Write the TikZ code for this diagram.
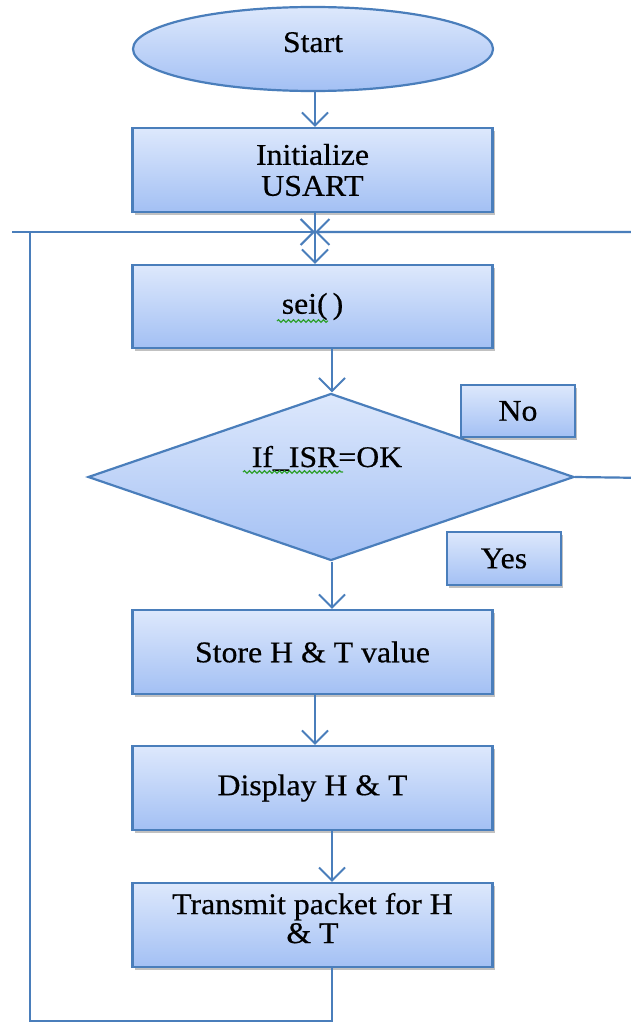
\documentclass[tikz,border=0pt]{standalone}
\usepackage{fontspec}
\setmainfont{Liberation Serif}[FakeStretch=1.06, FakeBold=0.5]
\usetikzlibrary{arrows.meta,shapes.geometric,shadows,decorations.pathmorphing}

\definecolor{flowline}{HTML}{4A7EBB}
\definecolor{fillTop}{HTML}{DDE8FC}
\definecolor{fillBot}{HTML}{A3C0F4}
\definecolor{spellgreen}{HTML}{2EA02E}

\tikzset{
  x=1pt, y=-1pt,
  flowfill/.style={top color=fillTop, bottom color=fillBot, draw=flowline, line width=2.2pt},
  procbox/.style={flowfill, rectangle, inner sep=0pt,
    drop shadow={shadow xshift=2pt, shadow yshift=-3pt, opacity=0.4, fill=black!60},
    font=\fontsize{30}{31}\selectfont, align=center},
  tagbox/.style={procbox, minimum width=114pt, minimum height=52pt},
  bigbox/.style={procbox, minimum width=360pt, minimum height=84pt},
  flowtext/.style={font=\fontsize{30}{31}\selectfont, inner sep=0pt},
  conn/.style={draw=flowline, line width=2.2pt},
  arr/.style={conn, -{Straight Barb[length=13pt, width=26pt, line width=2pt]}},
  squiggle/.style={draw=spellgreen, line width=1.2pt,
    decorate, decoration={snake, amplitude=1.3pt, segment length=5pt}},
}

\begin{document}
\begin{tikzpicture}
\useasboundingbox (0,0) rectangle (631,1022);
\clip (0,0) rectangle (631,1022);
\fill[white] (0,0) rectangle (631,1022);

% flowchart nodes
\node[flowfill, ellipse, minimum width=360pt, minimum height=84pt, inner sep=0pt] (start) at (313,49) {};
\node[flowtext, anchor=base] (starttxt) at (313,52) {Start};

\node[bigbox] (init) at (312.5,170) {Initialize\\USART};
\node[bigbox, minimum height=83pt] (sei) at (312.5,306.5) {sei(\,)};

\node[flowfill, diamond, minimum width=486pt, minimum height=167pt, inner sep=0pt] (dec) at (331,477) {};
\node[flowtext, anchor=base] (dectxt) at (327,467) {If\_ISR=OK};

\node[tagbox] (no) at (518,411) {No};
\node[tagbox, minimum height=53pt] (yes) at (504,558.5) {Yes};

\node[bigbox] (store) at (312.5,652) {Store H \& T value};
\node[bigbox] (disp) at (312.5,788) {Display H \& T};
\node[bigbox] (trans) at (312.5,925) {Transmit packet for H\\[-2pt]\& T\\[-17pt]};

% columns of the connectors
\coordinate (colA) at (315,0);
\coordinate (colB) at (332,0);
\coordinate (loopL) at (30,0);
\coordinate (join) at (315,232);
\coordinate (farR) at (650,478);
\coordinate (farL) at (12,232);
\coordinate (bottom) at (332,1021);

% main flow
\draw[arr] (start.south -| colA) -- (init.north -| colA);
\draw[arr] (init.south -| colA) -- (sei.north -| colA);
\draw[arr] (sei.south -| colB) -- (dec.north -| colB);
\draw[arr] (dec.south -| colB) -- (store.north -| colB);
\draw[arr] (store.south -| colA) -- (disp.north -| colA);
\draw[arr] (disp.south -| colB) -- (trans.north -| colB);

% loop back to the top
\draw[conn] (trans.south -| colB) -- (bottom) -- (bottom -| loopL) -- (join -| loopL);
\draw[arr] (farL) -- (join);
\draw[arr] (dec.east) -- (farR) |- (join);

% spelling marks under the code words
\draw[squiggle] (277,321) -- (328,321);
\draw[squiggle] (243,472) -- (343,472);
\end{tikzpicture}
\end{document}
